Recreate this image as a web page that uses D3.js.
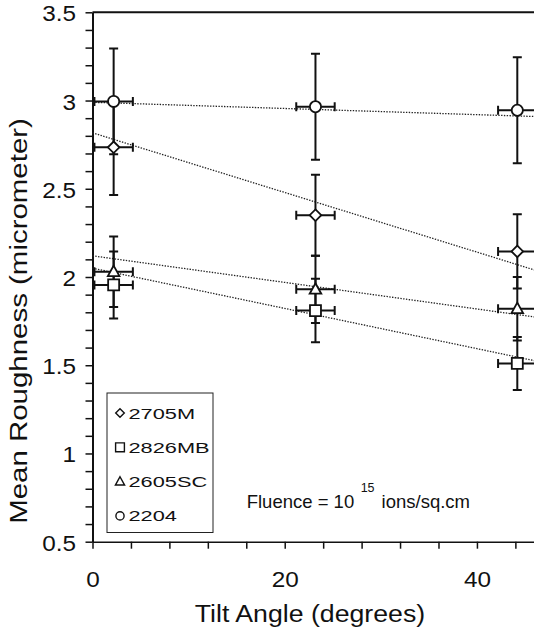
<!DOCTYPE html>
<html><head><meta charset="utf-8">
<script src="https://cdn.jsdelivr.net/npm/d3@7"></script>
<style>
html,body{margin:0;padding:0;background:#fff;}
svg{display:block;font-family:"Liberation Sans",Arial,Helvetica,sans-serif;}
</style></head><body>
<svg id="chart" width="534" height="633"></svg>
<script>
// ---- data ----
const angles = [2.2, 23.2, 44.2];
const angleErr = [2, 2, 2];
const seriesNames = ["2705M", "2826MB", "2605SC", "2204"];
const seriesShapes = ["diamond", "square", "triangle", "circle"];
const rough2705M = [2.735, 2.35, 2.145];
const err2705M = [0.27, 0.23, 0.21];
const rough2826MB = [1.955, 1.81, 1.51];
const err2826MB = [0.19, 0.18, 0.15];
const rough2605SC = [2.03, 1.93, 1.82];
const err2605SC = [0.2, 0.19, 0.18];
const rough2204 = [2.995, 2.965, 2.945];
const err2204 = [0.3, 0.3, 0.3];
const trendIntercepts = [2.817, 2.05, 2.12, 2.99];
const trendSlopes = [-0.0169, -0.0114, -0.00753, -0.00175];
const xDomain = [0, 46];
const yDomain = [0.5, 3.5];
const xTicks = d3.range(0, 45, 4);
const xTickLabels = [0, 20, 40];
const yTicks = d3.range(5, 36).map(d => d / 10);
const yTickLabels = [0.5, 1, 1.5, 2, 2.5, 3, 3.5];

const seriesValues = [rough2705M, rough2826MB, rough2605SC, rough2204];
const seriesErrors = [err2705M, err2826MB, err2605SC, err2204];

// ---- layout ----
const W = 534, H = 633;
const svg = d3.select("#chart");
const x = d3.scaleLinear().domain(xDomain).range([92.5, 534.6]);
const y = d3.scaleLinear().domain(yDomain).range([541.7, 12.3]);
const ink = "#111";

function shapePath(type, cx, cy, s) {
  if (type === "diamond") return `M${cx},${cy - s}L${cx + s},${cy}L${cx},${cy + s}L${cx - s},${cy}Z`;
  if (type === "square") return `M${cx - s},${cy - s}H${cx + s}V${cy + s}H${cx - s}Z`;
  if (type === "triangle") return `M${cx},${cy - s * 1.05}L${cx + s * 1.0},${cy + s * 0.75}L${cx - s * 1.0},${cy + s * 0.75}Z`;
  return `M${cx - s},${cy}A${s},${s} 0 1,0 ${cx + s},${cy}A${s},${s} 0 1,0 ${cx - s},${cy}Z`;
}
function stretch(sel, f) {
  sel.each(function () {
    const L = this.getComputedTextLength();
    if (L > 0) d3.select(this).attr("textLength", L * f).attr("lengthAdjust", "spacingAndGlyphs");
  });
}

// top border
svg.append("line").attr("x1", x(0)).attr("x2", W).attr("y1", y(3.5)).attr("y2", y(3.5))
  .attr("stroke", ink).attr("stroke-width", 2);

// y axis
const yAxis = svg.append("g").attr("transform", `translate(${x(0)},0)`)
  .call(d3.axisLeft(y).tickValues(yTicks).tickSize(7).tickSizeOuter(0)
    .tickFormat(d => yTickLabels.some(v => Math.abs(v - d) < 1e-9) ? String(+d.toFixed(1)) : ""));
yAxis.select(".domain").attr("stroke", ink).attr("stroke-width", 2);
yAxis.selectAll(".tick line").attr("stroke", ink).attr("stroke-width", 1.5);
yAxis.selectAll(".tick text").attr("x", -16.5).attr("dy", 0).attr("y", 8.5)
  .attr("font-size", 21.5).attr("fill", ink).attr("font-family", null);
stretch(yAxis.selectAll(".tick text"), 1.13);

// x axis
const xAxis = svg.append("g").attr("transform", `translate(0,${y(0.5)})`)
  .call(d3.axisBottom(x).tickValues(xTicks).tickSize(7).tickSizeOuter(0)
    .tickFormat(d => xTickLabels.includes(d) ? String(d) : ""));
xAxis.select(".domain").attr("stroke", ink).attr("stroke-width", 1.5);
xAxis.selectAll(".tick line").attr("stroke", ink).attr("stroke-width", 1.5);
xAxis.selectAll(".tick text").attr("y", 45.5).attr("dy", 0)
  .attr("font-size", 21.5).attr("fill", ink).attr("font-family", null);
stretch(xAxis.selectAll(".tick text"), 1.13);

// axis titles
const xt = svg.append("text").attr("x", 310).attr("y", 621.5).attr("text-anchor", "middle")
  .attr("font-size", 23).attr("fill", ink).text("Tilt Angle (degrees)");
stretch(xt, 1.16);
const yt = svg.append("text").attr("transform", "translate(26.7,321) rotate(-90)")
  .attr("text-anchor", "middle").attr("font-size", 23).attr("fill", ink)
  .text("Mean Roughness (micrometer)");
stretch(yt, 1.28);

// trend lines
const plot = svg.append("g");
seriesNames.forEach((name, i) => {
  const pts = xDomain.map(a => [x(a), y(trendIntercepts[i] + trendSlopes[i] * a)]);
  plot.append("path").attr("d", d3.line()(pts)).attr("fill", "none")
    .attr("stroke", "#222").attr("stroke-width", 1.3).attr("stroke-dasharray", "1.4,1.4");
});

// error bars
const cap = 4.5;
seriesNames.forEach((name, i) => {
  const g = plot.append("g").attr("stroke", ink).attr("stroke-width", 2).attr("fill", "none");
  angles.forEach((a, j) => {
    const v = seriesValues[i][j], e = seriesErrors[i][j], ae = angleErr[j];
    const cx = x(a), cy = y(v), y1 = y(v + e), y2 = y(v - e), x1 = x(a - ae), x2 = x(a + ae);
    g.append("path").attr("d",
      `M${cx},${y1}V${y2}M${cx - cap},${y1}H${cx + cap}M${cx - cap},${y2}H${cx + cap}` +
      `M${x1},${cy}H${x2}M${x1},${cy - cap}V${cy + cap}M${x2},${cy - cap}V${cy + cap}`);
  });
});

// markers
const markerSize = { diamond: 5.8, square: 5.5, triangle: 5.8, circle: 5.6 };
seriesNames.forEach((name, i) => {
  const shape = seriesShapes[i];
  angles.forEach((a, j) => {
    plot.append("path").attr("d", shapePath(shape, x(a), y(seriesValues[i][j]), markerSize[shape]))
      .attr("fill", "#fff").attr("stroke", ink).attr("stroke-width", 1.8);
  });
});

// legend
const lg = svg.append("g");
lg.append("rect").attr("x", 107).attr("y", 393).attr("width", 106).attr("height", 139.5)
  .attr("fill", "#fff").attr("stroke", "#222").attr("stroke-width", 1);
const legendSize = { diamond: 4.3, square: 4.4, triangle: 4.6, circle: 4.1 };
seriesNames.forEach((name, i) => {
  const cy = 413 + i * 34.3;
  lg.append("path").attr("d", shapePath(seriesShapes[i], 120, cy, legendSize[seriesShapes[i]]))
    .attr("fill", "#fff").attr("stroke", ink).attr("stroke-width", 1.4);
  const t = lg.append("text").attr("x", 128.5).attr("y", cy + 5.5).attr("font-size", 15)
    .attr("fill", ink).text(name);
  stretch(t, 1.45);
});

// fluence annotation
const fl = svg.append("text").attr("x", 246.7).attr("y", 508).attr("font-size", 18.5).attr("fill", ink);
fl.append("tspan").text("Fluence = 10");
fl.append("tspan").attr("dx", 6.5).attr("dy", -16.3).attr("font-size", 12.5).text("15");
fl.append("tspan").attr("dx", 7).attr("dy", 16.3).text("ions/sq.cm");
</script>
</body></html>
